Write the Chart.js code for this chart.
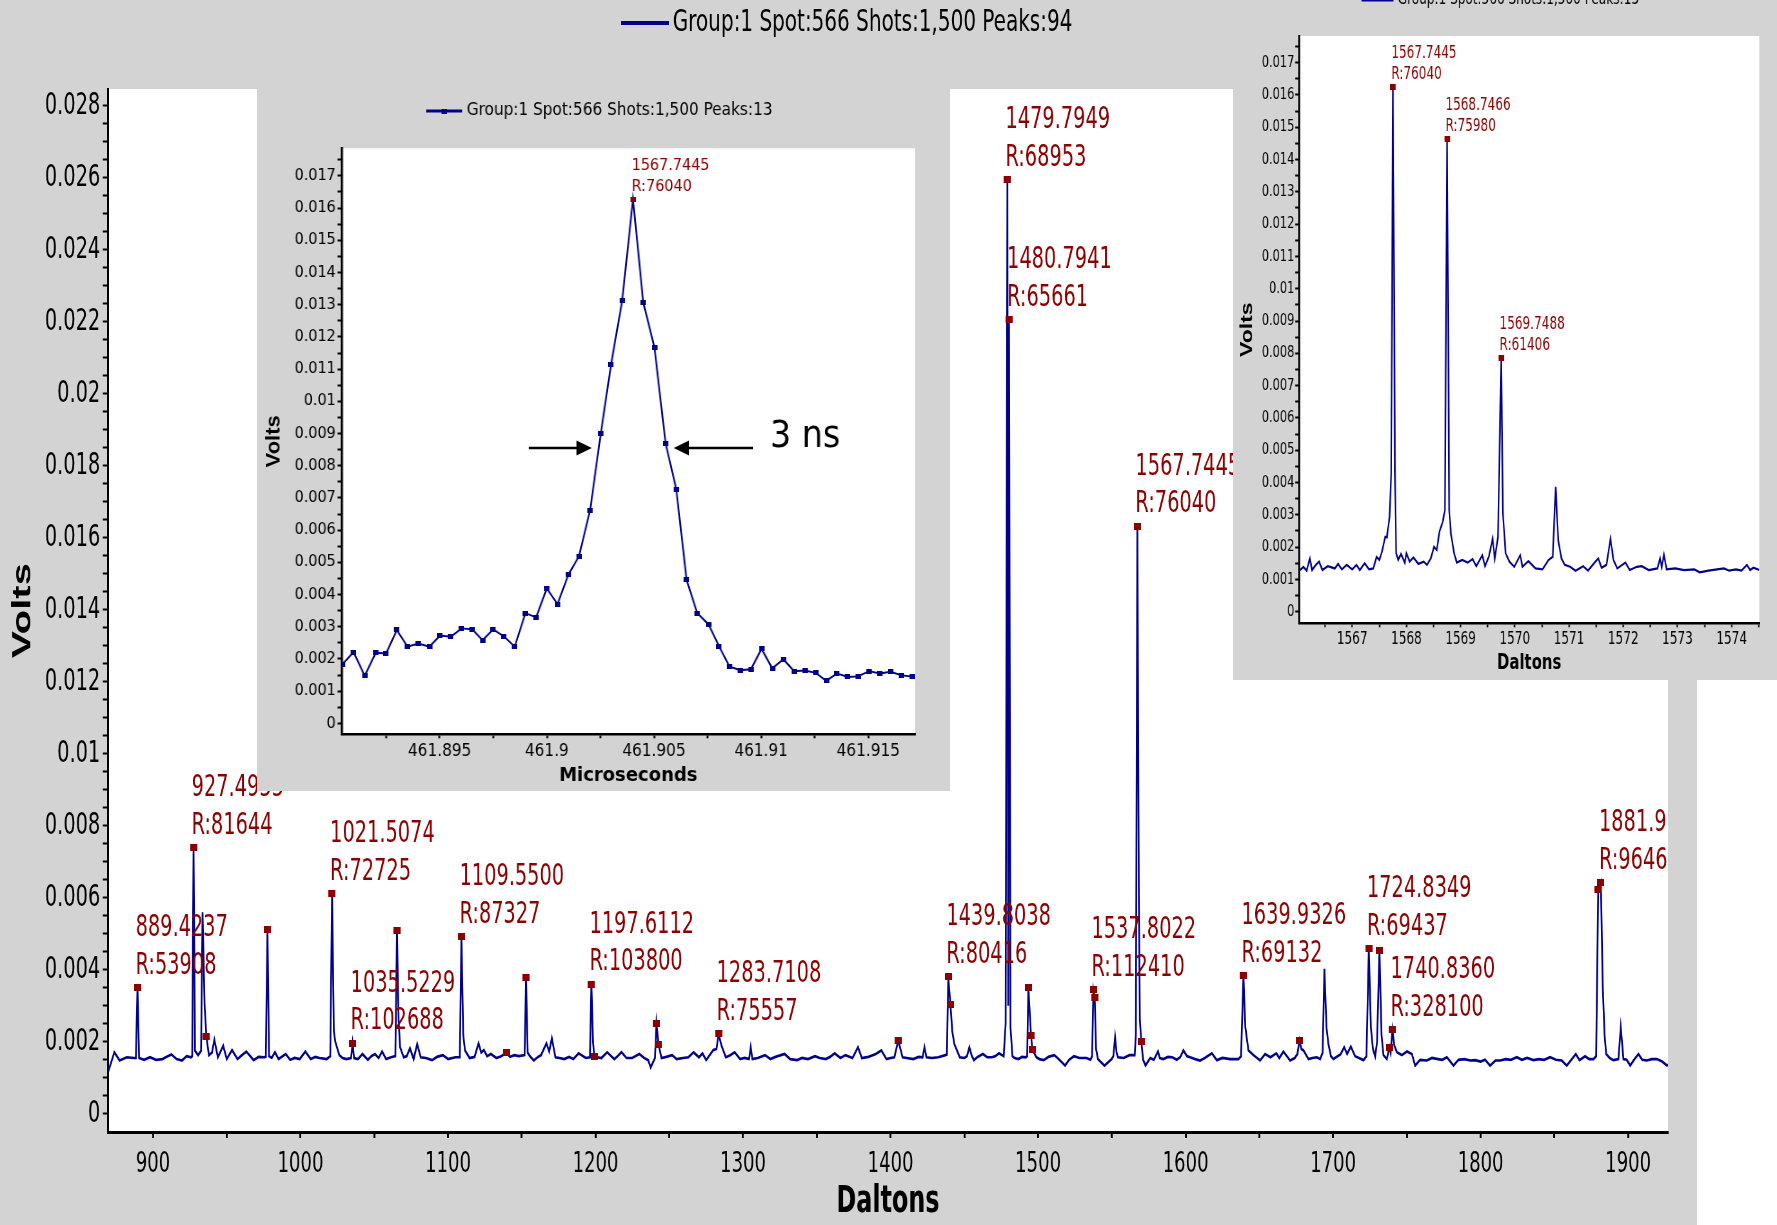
<!DOCTYPE html>
<html>
<head>
<meta charset="utf-8">
<title>Spectrum</title>
<script src="https://cdn.jsdelivr.net/npm/chart.js@4.4.1/dist/chart.umd.min.js"></script>
<style>
  html, body { margin: 0; padding: 0; background: #fff; }
  body { position: relative; width: 1777px; height: 1225px; overflow: hidden; }
  .box { position: absolute; overflow: hidden; }
  .box canvas { transform-origin: 0 0; display: block; }
</style>
</head>
<body>
<div class="box" style="left:0;top:0;width:1697px;height:1225px">
  <canvas id="main" width="2631" height="1225"></canvas>
</div>
<div class="box" style="left:257px;top:80px;width:693px;height:711px">
  <canvas id="left" width="770" height="711"></canvas>
</div>
<div class="box" style="left:1233px;top:-40px;width:544px;height:720px">
  <canvas id="right" width="766" height="720"></canvas>
</div>
<script>
// --- Data: main spectrum (Daltons, Volts) ---
const mainTrace = [
  [869.6,0.00116],[873.8,0.00171],[877.4,0.00148],[882.2,0.00157],[887.1,0.00155],[888.4,0.00155],[889.5,0.00351],[890.6,0.00155],[894.0,0.00150],[898.0,0.00157],
  [902.0,0.00150],[906.4,0.00152],[909.0,0.00158],[912.5,0.00165],[916.0,0.00152],[919.7,0.00148],[922.8,0.00160],[925.8,0.00157],[926.6,0.00160],[927.5,0.00739],
  [928.5,0.00175],[930.6,0.00163],[932.6,0.00175],[933.6,0.00560],[935.0,0.00300],[936.2,0.00215],[937.9,0.00163],[940.0,0.00170],[941.6,0.00205],[944.0,0.00157],
  [947.6,0.00189],[950.0,0.00152],[953.6,0.00177],[957.3,0.00152],[960.0,0.00162],[963.3,0.00173],[968.2,0.00149],[971.5,0.00158],[975.5,0.00157],[976.5,0.00158],
  [977.6,0.00511],[978.7,0.00160],[980.5,0.00155],[982.7,0.00171],[985.1,0.00152],[990.0,0.00166],[993.0,0.00150],[996.0,0.00155],[999.5,0.00152],[1003.3,0.00173],
  [1006.9,0.00152],[1010.0,0.00158],[1012.9,0.00155],[1017.8,0.00152],[1020.2,0.00160],[1021.4,0.00611],[1022.6,0.00230],[1023.6,0.00200],[1026.3,0.00163],[1028.5,0.00155],
  [1031.1,0.00152],[1034.3,0.00155],[1035.3,0.00196],[1036.3,0.00155],[1039.0,0.00152],[1042.0,0.00166],[1045.7,0.00150],[1048.0,0.00160],[1050.5,0.00166],[1053.0,0.00155],
  [1055.3,0.00173],[1058.0,0.00152],[1061.4,0.00157],[1064.3,0.00160],[1065.4,0.00508],[1066.5,0.00260],[1067.5,0.00185],[1069.9,0.00157],[1072.0,0.00160],[1074.2,0.00182],
  [1076.7,0.00152],[1079.1,0.00194],[1081.5,0.00157],[1085.0,0.00155],[1089.2,0.00149],[1092.5,0.00158],[1096.5,0.00163],[1100.0,0.00152],[1105.0,0.00157],[1108.0,0.00157],
  [1109.1,0.00493],[1110.3,0.00220],[1111.5,0.00176],[1114.6,0.00155],[1118.0,0.00158],[1120.7,0.00196],[1122.5,0.00170],[1124.3,0.00177],[1126.5,0.00160],[1129.1,0.00166],
  [1132.8,0.00155],[1136.0,0.00160],[1139.6,0.00169],[1142.0,0.00158],[1145.0,0.00163],[1148.0,0.00160],[1151.9,0.00163],[1152.9,0.00378],[1154.0,0.00170],[1155.5,0.00160],
  [1158.2,0.00148],[1161.0,0.00158],[1163.1,0.00163],[1166.7,0.00196],[1168.6,0.00173],[1170.4,0.00210],[1172.8,0.00157],[1175.5,0.00155],[1178.8,0.00152],[1182.0,0.00158],
  [1185.0,0.00152],[1188.5,0.00168],[1193.4,0.00155],[1196.2,0.00157],[1197.2,0.00360],[1198.3,0.00200],[1199.1,0.00160],[1201.1,0.00157],[1204.0,0.00155],[1207.9,0.00171],
  [1212.7,0.00152],[1215.0,0.00160],[1217.6,0.00171],[1221.0,0.00155],[1224.8,0.00155],[1229.7,0.00166],[1233.0,0.00155],[1235.7,0.00149],[1237.4,0.00129],[1240.3,0.00155],
  [1241.3,0.00250],[1242.7,0.00193],[1244.7,0.00155],[1248.0,0.00158],[1251.9,0.00163],[1255.0,0.00152],[1259.3,0.00155],[1263.0,0.00157],[1266.5,0.00171],[1270.1,0.00157],
  [1272.5,0.00168],[1275.0,0.00149],[1279.8,0.00177],[1282.0,0.00180],[1283.4,0.00222],[1285.4,0.00189],[1288.3,0.00157],[1291.0,0.00162],[1294.3,0.00171],[1298.0,0.00152],
  [1301.0,0.00155],[1304.1,0.00152],[1305.2,0.00185],[1306.3,0.00152],[1310.0,0.00155],[1314.9,0.00163],[1318.5,0.00152],[1322.0,0.00158],[1328.2,0.00166],[1332.0,0.00152],
  [1336.7,0.00149],[1340.0,0.00155],[1344.0,0.00152],[1348.8,0.00160],[1352.0,0.00155],[1356.1,0.00152],[1359.0,0.00158],[1362.1,0.00168],[1366.0,0.00155],[1369.4,0.00163],
  [1374.2,0.00155],[1377.9,0.00185],[1380.5,0.00155],[1385.0,0.00158],[1390.0,0.00166],[1393.8,0.00176],[1397.2,0.00152],[1400.0,0.00155],[1402.6,0.00157],[1405.2,0.00204],
  [1408.1,0.00157],[1411.0,0.00155],[1415.4,0.00152],[1419.0,0.00158],[1421.7,0.00157],[1423.0,0.00185],[1424.3,0.00157],[1428.0,0.00155],[1432.3,0.00157],[1437.2,0.00163],
  [1438.2,0.00165],[1439.1,0.00380],[1440.6,0.00303],[1441.8,0.00230],[1443.2,0.00194],[1446.9,0.00157],[1450.0,0.00155],[1451.8,0.00160],[1453.4,0.00185],[1455.0,0.00162],
  [1456.5,0.00149],[1459.0,0.00158],[1462.6,0.00166],[1465.5,0.00157],[1468.7,0.00157],[1471.0,0.00160],[1473.5,0.00168],[1476.7,0.00160],[1478.0,0.00250],[1479.2,0.02594],
  [1479.75,0.00300],[1480.3,0.02206],[1481.3,0.00240],[1482.6,0.00160],[1484.0,0.00155],[1486.8,0.00152],[1489.0,0.00158],[1491.7,0.00157],[1492.6,0.00160],[1493.4,0.00351],
  [1495.2,0.00218],[1496.1,0.00179],[1498.9,0.00157],[1501.0,0.00152],[1503.8,0.00149],[1507.0,0.00158],[1511.0,0.00163],[1514.0,0.00152],[1518.3,0.00134],[1521.0,0.00150],
  [1524.3,0.00160],[1528.0,0.00155],[1532.8,0.00155],[1535.5,0.00150],[1536.6,0.00160],[1537.5,0.00344],[1538.4,0.00323],[1539.3,0.00180],[1540.6,0.00152],[1545.0,0.00134],
  [1549.8,0.00152],[1551.0,0.00160],[1552.2,0.00213],[1553.2,0.00170],[1554.2,0.00157],[1558.0,0.00155],[1561.9,0.00163],[1565.5,0.00163],[1566.3,0.00220],[1567.3,0.01632],
  [1568.3,0.00600],[1569.0,0.00260],[1570.0,0.00200],[1571.2,0.00150],[1572.8,0.00134],[1576.0,0.00155],[1578.5,0.00150],[1581.3,0.00173],[1582.5,0.00155],[1584.9,0.00152],
  [1588.0,0.00158],[1591.0,0.00157],[1594.0,0.00150],[1596.3,0.00157],[1598.5,0.00176],[1601.0,0.00160],[1603.0,0.00157],[1606.5,0.00152],[1609.8,0.00148],[1613.0,0.00155],
  [1617.8,0.00168],[1621.2,0.00149],[1625.0,0.00155],[1630.2,0.00152],[1635.8,0.00152],[1637.6,0.00160],[1639.2,0.00384],[1640.5,0.00240],[1642.6,0.00176],[1646.0,0.00163],
  [1650.5,0.00148],[1653.9,0.00166],[1657.5,0.00157],[1661.5,0.00168],[1663.5,0.00155],[1666.3,0.00173],[1670.8,0.00148],[1674.0,0.00155],[1675.8,0.00166],[1677.2,0.00204],
  [1678.5,0.00180],[1679.9,0.00176],[1683.3,0.00152],[1686.0,0.00155],[1688.9,0.00157],[1691.2,0.00152],[1692.9,0.00170],[1694.1,0.00403],[1695.5,0.00240],[1696.8,0.00194],
  [1698.5,0.00160],[1700.2,0.00152],[1703.0,0.00160],[1705.0,0.00165],[1707.5,0.00185],[1709.5,0.00166],[1712.0,0.00187],[1714.9,0.00160],[1717.5,0.00155],[1720.6,0.00149],
  [1722.6,0.00160],[1724.2,0.00458],[1725.6,0.00240],[1727.0,0.00180],[1728.5,0.00160],[1729.8,0.00200],[1731.4,0.00454],[1732.8,0.00220],[1734.1,0.00163],[1736.4,0.00152],
  [1738.2,0.00185],[1739.0,0.00170],[1740.2,0.00233],[1741.5,0.00190],[1743.2,0.00171],[1746.6,0.00163],[1750.0,0.00173],[1753.4,0.00166],[1755.6,0.00134],[1759.0,0.00150],
  [1763.5,0.00148],[1767.0,0.00155],[1771.0,0.00152],[1774.0,0.00150],[1777.1,0.00157],[1781.6,0.00134],[1785.0,0.00150],[1789.0,0.00152],[1793.0,0.00148],[1796.3,0.00149],
  [1800.0,0.00145],[1803.0,0.00150],[1806.4,0.00134],[1810.0,0.00148],[1813.2,0.00148],[1817.0,0.00152],[1820.5,0.00150],[1824.5,0.00157],[1828.0,0.00150],[1831.5,0.00155],
  [1835.8,0.00149],[1839.5,0.00152],[1843.0,0.00150],[1847.1,0.00157],[1851.0,0.00150],[1855.0,0.00148],[1858.4,0.00134],[1861.5,0.00150],[1864.5,0.00166],[1867.0,0.00149],
  [1870.8,0.00160],[1873.5,0.00152],[1876.5,0.00152],[1878.3,0.00160],[1879.7,0.00622],[1881.5,0.00643],[1882.8,0.00350],[1884.0,0.00220],[1885.1,0.00166],[1887.5,0.00155],
  [1890.0,0.00149],[1893.4,0.00152],[1895.0,0.00240],[1896.8,0.00152],[1899.0,0.00150],[1901.4,0.00134],[1904.0,0.00150],[1907.0,0.00166],[1909.5,0.00150],[1912.7,0.00148],
  [1916.0,0.00152],[1919.5,0.00152],[1923.0,0.00145],[1926.3,0.00134],[1927.0,0.00136],
];

// picked peaks (red squares)
const mainMarkers = [
  [889.5,0.00351],[927.5,0.00739],[936.2,0.00215],[977.6,0.00511],[1021.4,0.00611],[1035.3,0.00196],
  [1065.4,0.00508],[1109.1,0.00493],[1139.6,0.00169],[1152.9,0.00378],[1197.2,0.00360],[1199.1,0.00160],
  [1241.3,0.00250],[1242.7,0.00193],[1283.4,0.00222],[1405.2,0.00204],[1439.1,0.00380],[1440.6,0.00303],
  [1479.2,0.02594],[1480.3,0.02206],[1493.4,0.00351],[1495.2,0.00218],[1496.1,0.00179],[1537.5,0.00344],
  [1538.4,0.00323],[1567.3,0.01632],[1570.0,0.00200],[1639.2,0.00384],[1677.2,0.00204],[1724.2,0.00458],
  [1731.4,0.00454],[1738.2,0.00185],[1740.2,0.00233],[1879.7,0.00622],[1881.5,0.00643],
];

const mainLabels = [
  [889.5, 0.00351, "889.4237", "R:53908"],
  [927.5, 0.00739, "927.4955", "R:81644"],
  [1021.4, 0.00611, "1021.5074", "R:72725"],
  [1035.3, 0.00196, "1035.5229", "R:102688"],
  [1109.1, 0.00493, "1109.5500", "R:87327"],
  [1197.2, 0.00360, "1197.6112", "R:103800"],
  [1283.4, 0.00222, "1283.7108", "R:75557"],
  [1439.1, 0.00380, "1439.8038", "R:80416"],
  [1479.2, 0.02594, "1479.7949", "R:68953"],
  [1480.3, 0.02206, "1480.7941", "R:65661"],
  [1537.5, 0.00344, "1537.8022", "R:112410"],
  [1567.3, 0.01632, "1567.7445", "R:76040"],
  [1639.2, 0.00384, "1639.9326", "R:69132"],
  [1724.2, 0.00458, "1724.8349", "R:69437"],
  [1740.2, 0.00233, "1740.8360", "R:328100"],
  [1881.5, 0.00643, "1881.9166", "R:96464"],
];

const mainXMajor = [900, 1000, 1100, 1200, 1300, 1400, 1500, 1600, 1700, 1800, 1900];
const mainYMajor = [0, 0.002, 0.004, 0.006, 0.008, 0.01, 0.012, 0.014, 0.016, 0.018, 0.02, 0.022, 0.024, 0.026, 0.028];

// --- Data: left inset, one peak in time (Microseconds, Volts) ---
const leftTrace = [
  [461.89046,0.00183],[461.89098,0.00221],[461.89150,0.00148],[461.89202,0.00219],[461.89250,0.00217],[461.89300,0.00290],
  [461.89350,0.00238],[461.89400,0.00248],[461.89452,0.00238],[461.89502,0.00273],[461.89552,0.00269],[461.89602,0.00295],
  [461.89652,0.00292],[461.89700,0.00258],[461.89750,0.00292],[461.89800,0.00270],[461.89850,0.00238],[461.89900,0.00342],
  [461.89950,0.00329],[461.90000,0.00419],[461.90050,0.00370],[461.90100,0.00461],[461.90150,0.00519],[461.90202,0.00662],
  [461.90252,0.00901],[461.90300,0.01115],[461.90352,0.01314],[461.90402,0.01628],[461.90450,0.01307],[461.90502,0.01168],
  [461.90554,0.00870],[461.90604,0.00727],[461.90652,0.00446],[461.90702,0.00342],[461.90754,0.00308],[461.90804,0.00239],
  [461.90852,0.00177],[461.90902,0.00165],[461.90952,0.00168],[461.91002,0.00231],[461.91052,0.00171],[461.91104,0.00199],
  [461.91154,0.00162],[461.91204,0.00164],[461.91254,0.00157],[461.91304,0.00132],[461.91354,0.00155],[461.91404,0.00144],
  [461.91452,0.00146],[461.91504,0.00162],[461.91554,0.00155],[461.91604,0.00160],[461.91656,0.00149],[461.91706,0.00145],
];
const leftMarkers = [[461.90402, 0.01628]];
const leftLabels = [[461.90402, 0.01628, "1567.7445", "R:76040"]];
const leftXMajor = [461.895, 461.9, 461.905, 461.91, 461.915];
const leftYMajor = [0, 0.001, 0.002, 0.003, 0.004, 0.005, 0.006, 0.007, 0.008, 0.009, 0.01, 0.011, 0.012, 0.013, 0.014, 0.015, 0.016, 0.017];

// --- Data: right inset, isotope cluster (Daltons, Volts) ---
const rightTrace = [
  [1566.04,0.00129],[1566.10,0.00139],[1566.16,0.00127],[1566.22,0.00165],[1566.26,0.00129],[1566.33,0.00145],[1566.39,0.00155],[1566.45,0.00129],
  [1566.55,0.00141],[1566.68,0.00134],[1566.74,0.00148],[1566.81,0.00131],[1566.90,0.00145],[1567.00,0.00131],[1567.08,0.00145],[1567.14,0.00129],
  [1567.23,0.00150],[1567.31,0.00131],[1567.39,0.00134],[1567.45,0.00170],[1567.50,0.00160],[1567.55,0.00186],[1567.61,0.00232],[1567.64,0.00230],
  [1567.69,0.00294],[1567.72,0.00428],[1567.753,0.01624],[1567.79,0.00428],[1567.81,0.00181],[1567.85,0.00160],[1567.90,0.00179],[1567.97,0.00152],
  [1568.00,0.00181],[1568.06,0.00155],[1568.13,0.00168],[1568.22,0.00148],[1568.32,0.00155],[1568.38,0.00145],[1568.45,0.00165],[1568.51,0.00201],
  [1568.56,0.00191],[1568.61,0.00248],[1568.67,0.00278],[1568.71,0.00314],[1568.751,0.01463],[1568.79,0.00314],[1568.82,0.00243],[1568.88,0.00181],
  [1568.93,0.00152],[1569.03,0.00160],[1569.13,0.00152],[1569.22,0.00163],[1569.29,0.00141],[1569.40,0.00175],[1569.45,0.00141],[1569.52,0.00170],
  [1569.59,0.00225],[1569.63,0.00165],[1569.69,0.00232],[1569.749,0.00785],[1569.78,0.00305],[1569.83,0.00181],[1569.90,0.00155],[1569.99,0.00139],
  [1570.10,0.00175],[1570.14,0.00139],[1570.25,0.00157],[1570.38,0.00134],[1570.51,0.00131],[1570.62,0.00160],[1570.70,0.00170],[1570.753,0.00387],
  [1570.80,0.00222],[1570.86,0.00165],[1570.92,0.00145],[1571.02,0.00139],[1571.12,0.00127],[1571.26,0.00141],[1571.35,0.00127],[1571.47,0.00152],
  [1571.54,0.00165],[1571.60,0.00136],[1571.69,0.00145],[1571.764,0.00225],[1571.82,0.00160],[1571.89,0.00134],[1572.04,0.00152],[1572.12,0.00129],
  [1572.25,0.00139],[1572.34,0.00141],[1572.47,0.00129],[1572.63,0.00134],[1572.68,0.00165],[1572.71,0.00139],[1572.75,0.00176],[1572.80,0.00131],
  [1572.96,0.00134],[1573.12,0.00129],[1573.31,0.00131],[1573.41,0.00122],[1573.57,0.00127],[1573.73,0.00131],[1573.86,0.00134],[1573.95,0.00127],
  [1574.08,0.00131],[1574.18,0.00127],[1574.28,0.00145],[1574.34,0.00129],[1574.40,0.00136],[1574.51,0.00129],
];
const rightMarkers = [[1567.753, 0.01624], [1568.751, 0.01463], [1569.749, 0.00785]];
const rightLabels = [
  [1567.753, 0.01624, "1567.7445", "R:76040"],
  [1568.751, 0.01463, "1568.7466", "R:75980"],
  [1569.749, 0.00785, "1569.7488", "R:61406"],
];
const rightXMajor = [1567, 1568, 1569, 1570, 1571, 1572, 1573, 1574];
const rightYMajor = leftYMajor;

// --- Styles ---
const GRAY = "#d3d3d3";
const NAVY = "#00008b";
const RED = "#8b0000";
const SANS = "'DejaVu Sans', Verdana, sans-serif";
const ARIAL = "'Liberation Sans', Arial, sans-serif";

// --- Utilities ---
const toXY = (arr) => arr.map(([x, y]) => ({ x, y }));
const fmt = (v) => String(+v.toFixed(3));
const near = (list, v) => list.some((m) => Math.abs(m - v) < 1e-9);

function subdivide(majors, parts, before = 0, after = 0) {
  const step = (majors[1] - majors[0]) / parts;
  const out = [];
  for (let k = before; k > 0; k--) out.push(+(majors[0] - k * step).toFixed(6));
  majors.forEach((m, i) => {
    out.push(m);
    if (i < majors.length - 1)
      for (let k = 1; k < parts; k++) out.push(+(m + k * step).toFixed(6));
  });
  const last = majors[majors.length - 1];
  for (let k = 1; k <= after; k++) out.push(+(last + k * step).toFixed(6));
  return out;
}

function square(w, h, color) {
  const c = document.createElement("canvas");
  c.width = w;
  c.height = h;
  const g = c.getContext("2d");
  g.fillStyle = color;
  g.fillRect(0, 0, w, h);
  return c;
}

// gray panel + white plot area
const frame = {
  id: "frame",
  beforeDraw(chart) {
    const { ctx, chartArea: a, width, height } = chart;
    ctx.save();
    ctx.fillStyle = GRAY;
    ctx.fillRect(0, 0, width, height);
    ctx.fillStyle = "#fff";
    ctx.fillRect(a.left, a.top, a.right - a.left, a.bottom - a.top);
    ctx.restore();
  },
};

function peakLabels(list, o) {
  return {
    id: "peakLabels",
    afterDatasetsDraw(chart) {
      const { ctx, chartArea: a, scales } = chart;
      ctx.save();
      ctx.beginPath();
      ctx.rect(a.left, a.top, a.right - a.left, a.bottom - a.top);
      ctx.clip();
      ctx.fillStyle = RED;
      ctx.font = o.font;
      ctx.textAlign = "left";
      ctx.textBaseline = "middle";
      list.forEach(([m, v, l1, l2]) => {
        const px = scales.x.getPixelForValue(m) - o.dx;
        const py = scales.y.getPixelForValue(v);
        ctx.fillText(l1, px, py - o.up1);
        ctx.fillText(l2, px, py - o.up2);
      });
      ctx.restore();
    },
  };
}

function legendLine(o) {
  return {
    id: "legendLine",
    afterDraw(chart) {
      const ctx = chart.ctx;
      ctx.save();
      ctx.strokeStyle = NAVY;
      ctx.lineWidth = o.lw;
      ctx.beginPath();
      ctx.moveTo(o.x0, o.y);
      ctx.lineTo(o.x1, o.y);
      ctx.stroke();
      if (o.dot) ctx.drawImage(o.dot, (o.x0 + o.x1) / 2 - o.dot.width / 2, o.y - o.dot.height / 2);
      ctx.fillStyle = "#000";
      ctx.font = o.font;
      ctx.textAlign = "left";
      ctx.textBaseline = "middle";
      ctx.fillText(o.text, o.tx, o.y);
      ctx.restore();
    },
  };
}

function axes(o) {
  return {
    x: {
      type: "linear",
      bounds: "data",
      min: o.xMin,
      max: o.xMax,
      afterBuildTicks: (s) => { s.ticks = o.xTicks.map((value) => ({ value })); },
      afterFit: (s) => { s.height = o.xHeight; },
      ticks: {
        autoSkip: false, maxRotation: 0, minRotation: 0, padding: o.xPad, color: "#000",
        font: { family: SANS, size: o.xFont },
        callback: (v) => (near(o.xMajor, v) ? fmt(v) : ""),
      },
      grid: { drawOnChartArea: false, drawTicks: true, tickLength: o.xTick, tickWidth: o.xTickW, color: "#000", tickColor: "#000" },
      border: { display: true, color: "#000", width: o.xBorder },
      title: {
        display: true, text: o.xTitle, color: "#000",
        font: { family: SANS, size: o.xTitleSize, weight: "bold" },
        padding: { top: 0, bottom: o.xTitlePad },
      },
    },
    y: {
      type: "linear",
      bounds: "data",
      min: o.yMin,
      max: o.yMax,
      afterBuildTicks: (s) => { s.ticks = o.yTicks.map((value) => ({ value })); },
      afterFit: (s) => { s.width = o.yWidth; },
      ticks: {
        autoSkip: false, padding: o.yPad, color: "#000",
        font: { family: SANS, size: o.yFont },
        callback: (v) => (near(o.yMajor, v) ? fmt(v) : ""),
      },
      grid: { drawOnChartArea: false, drawTicks: true, tickLength: o.yTick, tickWidth: 2, color: "#000", tickColor: "#000" },
      border: { display: true, color: "#000", width: o.yBorder },
      title: {
        display: true, text: "Volts", color: "#000",
        font: { family: ARIAL, size: o.yTitleSize, weight: "bold" },
        padding: { top: o.yTitlePad, bottom: 0 },
      },
    },
  };
}

function build(id, squash, o) {
  const canvas = document.getElementById(id);
  canvas.style.transform = `scaleX(${squash})`;
  return new Chart(canvas, {
    type: "scatter",
    data: { datasets: o.datasets },
    options: {
      responsive: false,
      animation: false,
      devicePixelRatio: 1,
      events: [],
      layout: { padding: o.padding },
      plugins: { legend: { display: false }, tooltip: { enabled: false } },
      scales: axes(o),
    },
    plugins: [frame, ...o.plugins],
  });
}

// --- Main spectrum (canvas squashed to 0.645 horizontally) ---
const SM = 0.645;
build("main", SM, {
  padding: { top: 89, right: 45, left: 0, bottom: 0 },
  xMin: 869.5, xMax: 1927, xMajor: mainXMajor, xTicks: subdivide(mainXMajor, 2),
  xHeight: 93, xPad: 10, xFont: 28, xTick: 6, xTickW: 3, xBorder: 3,
  xTitle: "Daltons", xTitleSize: 37, xTitlePad: 0,
  yMin: -0.000506, yMax: 0.028467, yMajor: mainYMajor, yTicks: subdivide(mainYMajor, 4),
  yWidth: 167.4, yPad: 4, yFont: 30, yTick: 8, yBorder: 3,
  yTitleSize: 40, yTitlePad: 12,
  datasets: [
    { data: toXY(mainTrace), showLine: true, borderColor: NAVY, borderWidth: 2.7, pointRadius: 0, tension: 0, order: 1 },
    { data: toXY(mainMarkers), showLine: false, pointStyle: square(11, 7, RED), pointRadius: 4, order: 0 },
  ],
  plugins: [
    peakLabels(mainLabels, { font: `30px ${SANS}`, dx: 3, up1: 59.3, up2: 21.6 }),
    legendLine({ x0: 963, x1: 1037, y: 23, lw: 4, tx: 1043, text: "Group:1 Spot:566 Shots:1,500 Peaks:94", font: `31px ${SANS}` }),
  ],
});

// --- Left inset: time domain peak ---
const SL = 0.9;
const arrows = {
  id: "arrows",
  afterDraw(chart) {
    const ctx = chart.ctx;
    ctx.save();
    ctx.strokeStyle = "#000";
    ctx.fillStyle = "#000";
    ctx.lineWidth = 2.5;
    const arrow = (from, tip, y) => {
      const dir = Math.sign(tip - from);
      const base = tip - dir * 17;
      ctx.beginPath();
      ctx.moveTo(from, y);
      ctx.lineTo(base, y);
      ctx.stroke();
      ctx.beginPath();
      ctx.moveTo(tip, y);
      ctx.lineTo(base, y - 7.5);
      ctx.lineTo(base, y + 7.5);
      ctx.closePath();
      ctx.fill();
    };
    arrow(302, 372, 368);
    arrow(551, 463, 368);
    ctx.font = `37px ${SANS}`;
    ctx.textBaseline = "alphabetic";
    ctx.fillText("3 ns", 570, 367);
    ctx.restore();
  },
};
build("left", SL, {
  padding: { top: 68.3, right: 38.9, left: 0, bottom: 0 },
  xMin: 461.89042, xMax: 461.91718, xMajor: leftXMajor, xTicks: subdivide(leftXMajor, 2, 1, 0),
  xHeight: 56.7, xPad: 3, xFont: 17, xTick: 4, xTickW: 2, xBorder: 2.5,
  xTitle: "Microseconds", xTitleSize: 20, xTitlePad: 3,
  yMin: -0.00034, yMax: 0.017857, yMajor: leftYMajor, yTicks: subdivide(leftYMajor, 2, 0, 1),
  yWidth: 93.9, yPad: 2, yFont: 16, yTick: 4.4, yBorder: 2.5,
  yTitleSize: 22, yTitlePad: 6,
  datasets: [
    { data: toXY(leftTrace), showLine: true, borderColor: NAVY, borderWidth: 1.9, pointStyle: square(6, 5, NAVY), pointRadius: 3, tension: 0, order: 1 },
    { data: toXY(leftMarkers), showLine: false, pointStyle: square(6, 5, RED), pointRadius: 3, order: 0 },
  ],
  plugins: [
    peakLabels(leftLabels, { font: `16px ${SANS}`, dx: 1.5, up1: 33, up2: 12.3 }),
    legendLine({ x0: 188, x1: 228, y: 31, lw: 3, dot: square(6, 5, NAVY), tx: 233, text: "Group:1 Spot:566 Shots:1,500 Peaks:13", font: `17px ${SANS}` }),
    arrows,
  ],
});

// --- Right inset: isotope cluster ---
const SR = 0.71;
build("right", SR, {
  padding: { top: 76, right: 24.7, left: 0, bottom: 0 },
  xMin: 1566.02, xMax: 1574.51, xMajor: rightXMajor, xTicks: subdivide(rightXMajor, 2, 1, 1),
  xHeight: 56.7, xPad: 2, xFont: 17, xTick: 4, xTickW: 2, xBorder: 2.5,
  xTitle: "Daltons", xTitleSize: 21, xTitlePad: 4,
  yMin: -0.000359, yMax: 0.017824, yMajor: rightYMajor, yTicks: subdivide(rightYMajor, 2, 0, 1),
  yWidth: 93, yPad: 1, yFont: 16, yTick: 5.6, yBorder: 2.5,
  yTitleSize: 23, yTitlePad: 6.6,
  datasets: [
    { data: toXY(rightTrace), showLine: true, borderColor: NAVY, borderWidth: 2.2, pointRadius: 0, tension: 0, order: 1 },
    { data: toXY(rightMarkers), showLine: false, pointStyle: square(8, 6, RED), pointRadius: 3, order: 0 },
  ],
  plugins: [
    peakLabels(rightLabels, { font: `17px ${SANS}`, dx: 2.4, up1: 34, up2: 12.3 }),
    legendLine({ x0: 181, x1: 226, y: 40, lw: 3, tx: 232, text: "Group:1 Spot:566 Shots:1,500 Peaks:13", font: `17px ${SANS}` }),
  ],
});
</script>
</body>
</html>
